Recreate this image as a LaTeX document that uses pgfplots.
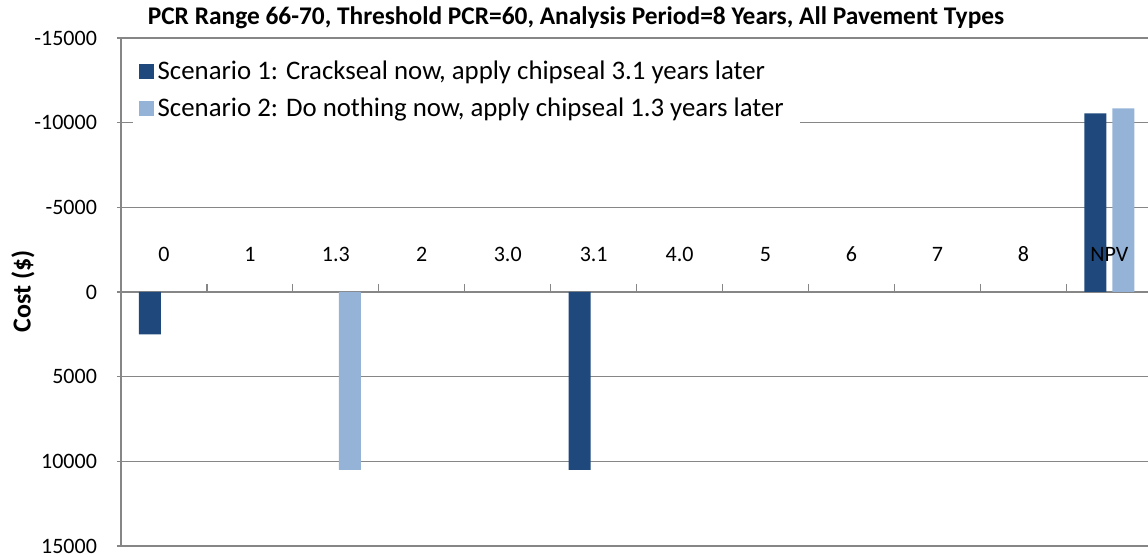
\documentclass[border=0pt]{standalone}
\usepackage{pgfplots}
\pgfplotsset{compat=1.18}
\usepackage{fontspec}
\setmainfont{Carlito}
\definecolor{darkblue}{RGB}{31,73,125}
\definecolor{lightblue}{RGB}{149,179,215}
\definecolor{axisgray}{RGB}{134,134,134}

\begin{document}
\begin{tikzpicture}
\begin{axis}[
  name=ax, at={(0,0)}, anchor=south west,
  set layers,
  scale only axis, width=513.5pt, height=254pt,
  xmin=-0.5, xmax=11.45,
  ymin=-15000, ymax=15000, y dir=reverse,
  ytick={-15000,-10000,...,15000},
  scaled y ticks=false,
  ymajorgrids, grid style={axisgray, line width=0.6pt},
  axis x line=middle, axis y line=left,
  axis line style={axisgray, line width=0.6pt, -},
  xtick={0,...,11},
  xticklabels={0,1,1.3,2,3.0,3.1,4.0,5,6,7,8,NPV},
  minor xtick={0.5,1.5,...,10.5},
  major x tick style={draw=none},
  minor x tick style={axisgray, line width=0.6pt},
  minor tick length=4pt,
  major tick length=4pt,
  ytick style={axisgray, line width=0.6pt},
  xticklabel style={anchor=base, yshift=19pt, /pgfplots/on layer=axis foreground},
  yticklabel style={xshift=-6.5pt, /pgf/number format/1000 sep={}, /pgf/number format/assume math mode=true},
  tick label style={font=\fontsize{11}{13}\selectfont},
  ybar=3pt, bar width=11pt,
  legend style={at={(axis description cs:0.011,0.984)}, anchor=north west, draw=none, fill=white,
    font=\fontsize{13.4}{16}\selectfont, row sep=4pt, inner xsep=3pt, inner ysep=5pt},
  legend cell align=left,
  legend image code/.code={\fill[#1] (-2pt,-3.75pt) rectangle (5.5pt,3.75pt);},
]
\addplot[fill=darkblue, draw=none] coordinates {(0,2500) (5,10500) (11,-10550)};
\addplot[fill=lightblue, draw=none] coordinates {(2,10500) (11,-10850)};
\legend{{Scenario 1: Crackseal now, apply chipseal 3.1 years later},
        {Scenario 2: Do nothing now, apply chipseal 1.3 years later\hspace*{3pt}}}
\end{axis}
\node[font=\bfseries\fontsize{12.7}{14}\selectfont] at (227.5pt,264pt)
  {PCR Range 66-70, Threshold PCR=60, Analysis Period=8 Years, All Pavement Types};
\node[rotate=90, font=\bfseries\fontsize{13}{15}\selectfont] at (-49pt,127.5pt) {Cost (\$)};
\pgfresetboundingbox
\path (-60.5pt,-5.5pt) rectangle (513.5pt,273pt);
\end{tikzpicture}
\end{document}
